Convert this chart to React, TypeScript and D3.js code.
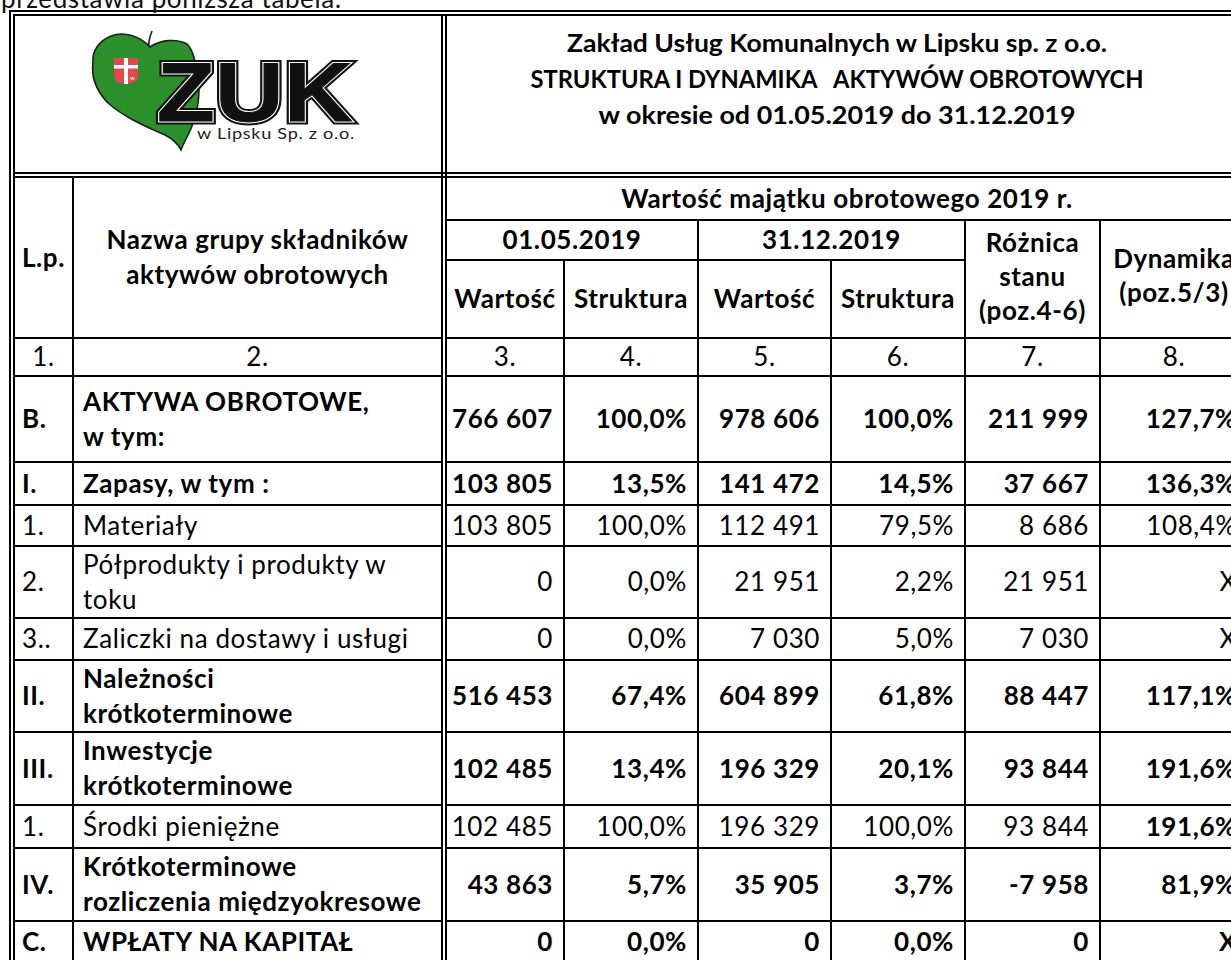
import { useEffect } from 'react';
import * as d3 from 'd3';

// table content
const introText = 'przedstawia poniższa tabela:';
const titleLines = [
  'Zakład Usług Komunalnych w Lipsku sp. z o.o.',
  'STRUKTURA I DYNAMIKA   AKTYWÓW OBROTOWYCH',
  'w okresie od 01.05.2019 do 31.12.2019',
];
const groupHeader = 'Wartość majątku obrotowego 2019 r.';
const dateHeaders = ['01.05.2019', '31.12.2019'];
const subHeaders = ['Wartość', 'Struktura', 'Wartość', 'Struktura'];
const diffHeader = ['Różnica', 'stanu', '(poz.4-6)'];
const dynHeader = ['Dynamika', '(poz.5/3)'];
const columnNumbers = ['1.', '2.', '3.', '4.', '5.', '6.', '7.', '8.'];

const rowCodes = ['B.', 'I.', '1.', '2.', '3..', 'II.', 'III.', '1.', 'IV.', 'C.'];
const rowNames = [
  ['AKTYWA OBROTOWE,', 'w tym:'],
  ['Zapasy, w tym :'],
  ['Materiały'],
  ['Półprodukty i produkty w', 'toku'],
  ['Zaliczki na dostawy i usługi'],
  ['Należności', 'krótkoterminowe'],
  ['Inwestycje', 'krótkoterminowe'],
  ['Środki pieniężne'],
  ['Krótkoterminowe', 'rozliczenia międzyokresowe'],
  ['WPŁATY NA KAPITAŁ'],
];
const rowBold = [true, true, false, false, false, true, true, false, true, true];
const value0105 = [766607, 103805, 103805, 0, 0, 516453, 102485, 102485, 43863, 0];
const share0105 = [100.0, 13.5, 100.0, 0.0, 0.0, 67.4, 13.4, 100.0, 5.7, 0.0];
const value3112 = [978606, 141472, 112491, 21951, 7030, 604899, 196329, 196329, 35905, 0];
const share3112 = [100.0, 14.5, 79.5, 2.2, 5.0, 61.8, 20.1, 100.0, 3.7, 0.0];
const difference = [211999, 37667, 8686, 21951, 7030, 88447, 93844, 93844, -7958, 0];
const dynamics: (number | null)[] = [127.7, 136.3, 108.4, null, null, 117.1, 191.6, 191.6, 81.9, null];
const dynamicsBold = [true, true, false, false, false, true, true, true, true, true];

// layout
const W = 1231;
const H = 960;
const FS = 26;
const LS = 0.6;
const FONT = "Lato, 'Open Sans', sans-serif";
const colEdges = [446, 564, 698, 831, 965, 1100, 1248];
const xLp = 14;
const xName = 73;
const xSplit = 442;
const headTop = 177;
const bodyTop = 376;
const rowHeights = [86, 43, 41, 72, 42, 72, 73, 43, 73, 42];
const titleWidths = [540, 613, 477];
const LINE_GAP = 35;

const pl = d3.formatLocale({
  decimal: ',',
  thousands: '\u00a0',
  grouping: [3],
  currency: ['', ' zł'],
  minus: '-',
});
const fmtInt = pl.format(',d');
const fmtPct = (v: number) => pl.format('.1f')(v) + '%';

function Logo() {
  return (
    <g>
      <path
        d="M150,47 C140,36 124,31 111,36 C99,41 92,51 93,62 C91,76 96,90 107,102 C123,117 147,127 165,135 C173,139 178,144 181,150 C184,142 189,134 192,126 C198,110 201,90 197,72 C195,60 193,50 187,44 C176,38 160,40 150,47 Z"
        fill="#2b8f2b"
        stroke="#1d1d1d"
        strokeWidth={1.6}
      />
      <path d="M149,47 C148,41 150,36 152,31" fill="none" stroke="#1d1d1d" strokeWidth={1.6} />
      <path d="M114,58 L138,58 L138,76 C138,81 132,84 126,84 C120,84 114,81 114,76 Z" fill="#e5484b" />
      <rect x={124} y={58} width={4} height={26} fill="#fff" />
      <rect x={114} y={65} width={24} height={3.5} fill="#fff" />
      <text x={130} y={80} fontSize={6} fill="#fff" fontFamily={FONT}>w</text>
      <g fontFamily="'Liberation Sans', Arial, sans-serif" fontWeight={700} fontSize={84}>
        <text x={157} y={121} textLength={196} lengthAdjust="spacingAndGlyphs" fill="none" stroke="#111" strokeWidth={7} strokeLinejoin="miter">ZUK</text>
        <text x={157} y={121} textLength={196} lengthAdjust="spacingAndGlyphs" fill="none" stroke="#fff" strokeWidth={3} strokeLinejoin="miter">ZUK</text>
        <text x={157} y={121} textLength={196} lengthAdjust="spacingAndGlyphs" fill="#111" stroke="#111" strokeWidth={1}>ZUK</text>
      </g>
      <text x={197} y={139} fontSize={15} fill="#222" fontFamily={FONT} textLength={158} lengthAdjust="spacingAndGlyphs">w Lipsku Sp. z o.o.</text>
    </g>
  );
}

export default function App() {
  useEffect(() => {
    document.body.style.margin = '0';
  }, []);

  const rowTops = [bodyTop, ...d3.cumsum(rowHeights).map((h) => bodyTop + h)];
  const right = colEdges[colEdges.length - 1];
  const capHalf = FS * 0.35;

  const lines: { x1: number; y1: number; x2: number; y2: number }[] = [];
  const h = (x1: number, x2: number, y: number) => lines.push({ x1, y1: y, x2, y2: y });
  const v = (x: number, y1: number, y2: number) => lines.push({ x1: x, y1, x2: x, y2 });

  // double borders
  v(10, 10, H + 10);
  v(14, 14, H + 10);
  h(9, right + 8, 11);
  h(13, right + 4, 15);
  v(xSplit, 14, H + 10);
  v(colEdges[0], 14, H + 10);
  h(14, right, 173);
  h(14, right, 177);
  v(right, 14, H + 10);
  v(right + 4, 10, H + 10);
  // header grid
  v(xName, headTop, H + 10);
  h(colEdges[0], right, 220);
  h(colEdges[0], colEdges[4], 260);
  v(colEdges[1], 260, H + 10);
  v(colEdges[2], 220, H + 10);
  v(colEdges[3], 260, H + 10);
  v(colEdges[4], 220, H + 10);
  v(colEdges[5], 220, H + 10);
  // row rules
  [338, ...rowTops].forEach((y) => {
    h(xLp, xSplit, y);
    h(colEdges[0], right, y);
  });

  const colCenters = d3.range(colEdges.length - 1).map((i) => (colEdges[i] + colEdges[i + 1]) / 2);
  const numCenters = [(xLp + xName) / 2, (xName + xSplit) / 2, ...colCenters];

  const dataCols = [
    value0105.map(fmtInt),
    share0105.map(fmtPct),
    value3112.map(fmtInt),
    share3112.map(fmtPct),
    difference.map(fmtInt),
    dynamics.map((d) => (d === null ? 'X' : fmtPct(d))),
  ];

  return (
    <div style={{ position: 'absolute', left: 0, top: 0 }}>
      <svg width={W} height={H} style={{ display: 'block', background: '#fff' }} fontFamily={FONT} letterSpacing={LS}>
        <rect width={W} height={H} fill="#fff" />
        <text x={1} y={8} fontSize={FS} fill="#111">{introText}</text>

        <Logo />

        {titleLines.map((t, i) => (
          <text
            key={i}
            x={837 - titleWidths[i] / 2}
            y={52 + i * 36}
            fontSize={25}
            fontWeight={700}
            letterSpacing={0}
            textLength={titleWidths[i]}
            lengthAdjust="spacingAndGlyphs"
            style={{ whiteSpace: 'pre' }}
          >
            {t}
          </text>
        ))}

        {/* header */}
        <g fontWeight={700} fontSize={FS} textAnchor="middle">
          <text x={(xLp + xName) / 2} y={257.5 + capHalf}>L.p.</text>
          {['Nazwa grupy składników', 'aktywów obrotowych'].map((t, i) => (
            <text key={i} x={(xName + xSplit) / 2} y={257.5 + (i - 0.5) * LINE_GAP + capHalf}>{t}</text>
          ))}
          <text x={(colEdges[0] + right) / 2} y={198.5 + capHalf}>{groupHeader}</text>
          {dateHeaders.map((t, i) => (
            <text key={i} x={(colEdges[i * 2] + colEdges[i * 2 + 2]) / 2} y={240 + capHalf}>{t}</text>
          ))}
          {subHeaders.map((t, i) => (
            <text key={i} x={colCenters[i]} y={299 + capHalf}>{t}</text>
          ))}
          {diffHeader.map((t, i) => (
            <text key={i} x={colCenters[4]} y={277 + (i - 1) * 34 + capHalf}>{t}</text>
          ))}
          {dynHeader.map((t, i) => (
            <text key={i} x={colCenters[5]} y={276 + (i - 0.5) * 34 + capHalf}>{t}</text>
          ))}
        </g>
        <g fontSize={FS} textAnchor="middle">
          {columnNumbers.map((t, i) => (
            <text key={i} x={numCenters[i]} y={357 + capHalf}>{t}</text>
          ))}
        </g>

        {/* body */}
        {rowCodes.map((code, r) => {
          const cy = (rowTops[r] + rowTops[r + 1]) / 2;
          const names = rowNames[r];
          const fw = rowBold[r] ? 700 : 400;
          return (
            <g key={r} fontSize={FS}>
              <text x={22} y={cy + capHalf} fontWeight={fw}>{code}</text>
              {names.map((t, i) => (
                <text key={i} x={83} y={cy + (i - (names.length - 1) / 2) * LINE_GAP + capHalf} fontWeight={fw}>{t}</text>
              ))}
              {dataCols.map((col, c) => (
                <text
                  key={c}
                  x={colEdges[c + 1] - 11}
                  y={cy + capHalf}
                  textAnchor="end"
                  fontWeight={c === 5 ? (dynamicsBold[r] ? 700 : 400) : fw}
                >
                  {col[r]}
                </text>
              ))}
            </g>
          );
        })}

        <g stroke="#000" strokeWidth={2}>
          {lines.map((l, i) => (
            <line key={i} x1={l.x1} y1={l.y1} x2={l.x2} y2={l.y2} />
          ))}
        </g>
      </svg>
    </div>
  );
}
